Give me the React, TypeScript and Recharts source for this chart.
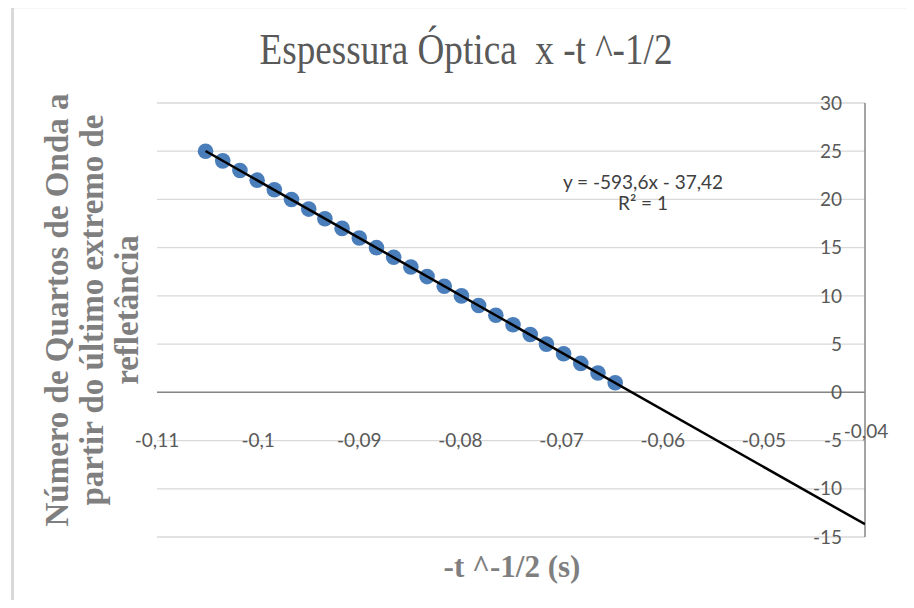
import { ScatterChart, Scatter, XAxis, YAxis, CartesianGrid, ReferenceLine } from 'recharts';

// quarter-wave count vs -t^-1/2 (fit y = -593,6x - 37,42)
const waveCount = [1, 2, 3, 4, 5, 6, 7, 8, 9, 10, 11, 12, 13, 14, 15, 16, 17, 18, 19, 20, 21, 22, 23, 24, 25];
const invSqrtT = [
  -0.0647, -0.0664, -0.0681, -0.0698, -0.0715, -0.0731, -0.0748, -0.0765, -0.0782, -0.0799,
  -0.0816, -0.0833, -0.0849, -0.0866, -0.0883, -0.09, -0.0917, -0.0934, -0.095, -0.0967,
  -0.0984, -0.1001, -0.1018, -0.1035, -0.1052,
];
// linear trendline, from the first point forward to the axis end
const trendX = [-0.1052, -0.04];
const trendY = [25.02, -13.68];

const xTicks = [-0.11, -0.1, -0.09, -0.08, -0.07, -0.06, -0.05, -0.04];
const yTicks = [-15, -10, -5, 0, 5, 10, 15, 20, 25, 30];

const points = invSqrtT.map((x, i) => ({ x, y: waveCount[i] }));
const trend = trendX.map((x, i) => ({ x, y: trendY[i] }));

const tickFont = 'Lato, "Open Sans", sans-serif';
const serif = '"Liberation Serif", "DejaVu Serif", serif';

const fmt = (v: number) => String(v).replace('.', ',');

function XTick({ x, y, payload, index }: any) {
  // the last label sits on the vertical axis, a bit higher than the rest
  const last = index === xTicks.length - 1;
  return (
    <text
      x={last ? x + 1 : x}
      y={last ? y - 99 : y - 90}
      textAnchor="middle"
      fill="#595959"
      style={{ fontFamily: tickFont, fontSize: 19 }}
    >
      {fmt(payload.value)}
    </text>
  );
}

function YTick({ x, y, payload }: any) {
  return (
    <text x={x - 23} y={y} dy="0.35em" textAnchor="end" fill="#595959" style={{ fontFamily: tickFont, fontSize: 19 }}>
      {payload.value}
    </text>
  );
}

export default function App() {
  return (
    <div style={{ position: 'relative', width: 914, height: 608, margin: -8, background: '#fff', overflow: 'hidden' }}>
      <ScatterChart width={914} height={608} margin={{ top: 103, right: 0, bottom: 0, left: 157 }}>
        <CartesianGrid horizontal vertical={false} stroke="#d9d9d9" strokeWidth={1.3} />
        <XAxis
          type="number"
          dataKey="x"
          domain={[-0.11, -0.04]}
          ticks={xTicks}
          allowDataOverflow
          height={71}
          axisLine={false}
          tickLine={false}
          tickSize={0}
          tickMargin={0}
          tick={<XTick />}
        />
        <YAxis
          type="number"
          dataKey="y"
          orientation="right"
          domain={[-15, 30]}
          ticks={yTicks}
          allowDataOverflow
          width={49}
          axisLine={{ stroke: '#868686', strokeWidth: 1.5 }}
          tickLine={false}
          tickSize={0}
          tickMargin={0}
          tick={<YTick />}
        />
        <ReferenceLine y={0} stroke="#868686" strokeWidth={1.5} />
        <Scatter data={points} fill="#4a7ebb" isAnimationActive={false} shape={(p: any) => <circle cx={p.cx} cy={p.cy} r={7.8} fill="#4a7ebb" />} />
        <Scatter
          data={trend}
          isAnimationActive={false}
          line={{ stroke: '#000', strokeWidth: 2.5 }}
          shape={() => <g />}
        />
      </ScatterChart>

      <svg width={914} height={608} style={{ position: 'absolute', left: 0, top: 0, pointerEvents: 'none' }}>
        {/* bits of the document text above the chart */}
        <text x={376} y={-1} style={{ fontFamily: serif, fontSize: 24 }} fill="#000">,</text>
        <text x={537} y={1} style={{ fontFamily: serif, fontSize: 24 }} fill="#000">p</text>
        {/* chart frame */}
        <line x1={12} y1={7.5} x2={914} y2={7.5} stroke="#d9d9d9" strokeWidth={1.5} />
        <line x1={12.5} y1={7} x2={12.5} y2={608} stroke="#d9d9d9" strokeWidth={3} />

        <text
          x={466}
          y={64}
          textAnchor="middle"
          fill="#595959"
          textLength={413}
          lengthAdjust="spacingAndGlyphs"
          style={{ fontFamily: serif, fontSize: 44, whiteSpace: 'pre' }}
        >
          {'Espessura Óptica  x -t ^-1/2'}
        </text>

        <g transform="translate(92 310) rotate(-90)" fill="#7f7f7f" textAnchor="middle" style={{ fontFamily: serif, fontWeight: 'bold', fontSize: 33 }}>
          <text x={0} y={-24}>Número de Quartos de Onda a</text>
          <text x={0} y={11}>partir do último extremo de</text>
          <text x={0} y={46}>refletância</text>
        </g>

        <text x={512} y={577} textAnchor="middle" fill="#7f7f7f" style={{ fontFamily: serif, fontWeight: 'bold', fontSize: 31 }}>
          -t ^-1/2 (s)
        </text>

        <text x={643} y={189} textAnchor="middle" fill="#404040" style={{ fontFamily: tickFont, fontSize: 19 }}>
          y = -593,6x - 37,42
        </text>
        <text x={643} y={210} textAnchor="middle" fill="#404040" style={{ fontFamily: tickFont, fontSize: 19 }}>
          R² = 1
        </text>
      </svg>
    </div>
  );
}
